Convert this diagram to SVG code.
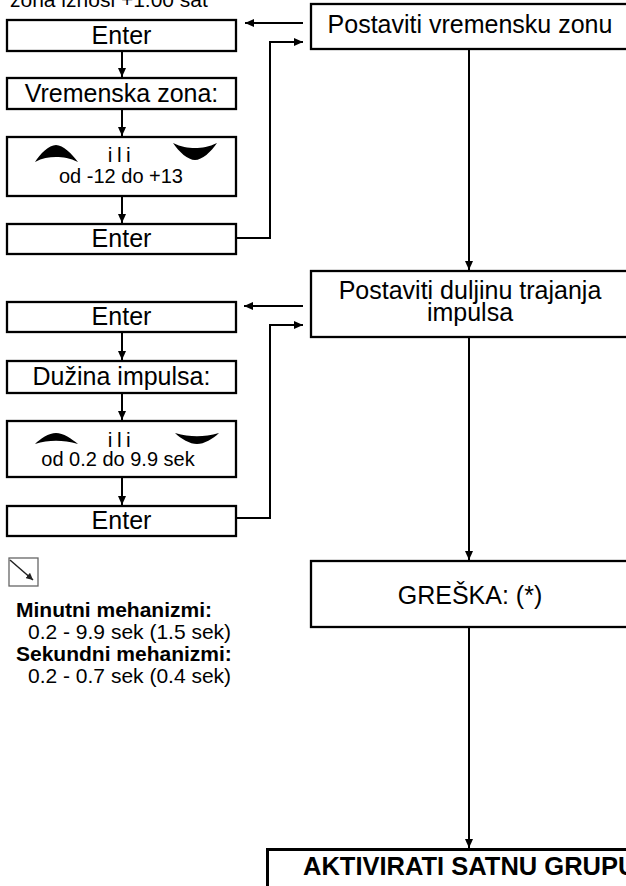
<svg xmlns="http://www.w3.org/2000/svg" width="626" height="886" viewBox="0 0 626 886">
<style>
text{font-family:"Liberation Sans",Arial,sans-serif;fill:#000}
.box{fill:#fff;stroke:#000;stroke-width:2.3}
.big{font-size:25px;text-anchor:middle}
.sm{font-size:20px;text-anchor:middle}
.ili{font-size:21px;text-anchor:middle;letter-spacing:4.5px}
.note{font-size:21px}
.b{font-weight:bold}
.con{fill:none;stroke:#000;stroke-width:2}
.chev{fill:#000}
</style>
<defs>
<marker id="ah" markerUnits="userSpaceOnUse" markerWidth="9" markerHeight="8" refX="9" refY="4" orient="auto">
<path d="M0,0 L9,4 L0,8 Z" fill="#000"/>
</marker>
<marker id="ahs" markerUnits="userSpaceOnUse" markerWidth="7" markerHeight="7" refX="7" refY="3.5" orient="auto">
<path d="M0,0 L7,3.5 L0,7 Z" fill="#222"/>
</marker>
<path id="up" d="M0,17 C5,9 14,0 21,0 C28,0 37,9 43,17 C35,13 28,12 21,12 C14,12 7,13 0,17 Z"/>
<path id="down" d="M0,0 C8,4 15,5 22,5 C29,5 36,4 44,0 C38,9 29,17 22,17 C15,17 6,9 0,0 Z"/>
</defs>

<text class="note" x="10" y="7">zona iznosi +1:00 sat</text>

<g id="connectors">
<line class="con" x1="122" y1="52" x2="122" y2="77" marker-end="url(#ah)"/>
<line class="con" x1="122" y1="110" x2="122" y2="136" marker-end="url(#ah)"/>
<line class="con" x1="122" y1="197" x2="122" y2="223" marker-end="url(#ah)"/>
<line class="con" x1="122" y1="333" x2="122" y2="360" marker-end="url(#ah)"/>
<line class="con" x1="122" y1="394" x2="122" y2="420" marker-end="url(#ah)"/>
<line class="con" x1="122" y1="478" x2="122" y2="505" marker-end="url(#ah)"/>
<line class="con" x1="303" y1="23" x2="245" y2="23" marker-end="url(#ah)"/>
<path class="con" d="M237,238 H270 V42 H303" marker-end="url(#ah)"/>
<line class="con" x1="303" y1="306" x2="244" y2="306" marker-end="url(#ah)"/>
<path class="con" d="M237,518 H270 V325 H303" marker-end="url(#ah)"/>
<line class="con" x1="469" y1="50" x2="469" y2="270" marker-end="url(#ah)"/>
<line class="con" x1="469" y1="338" x2="469" y2="560" marker-end="url(#ah)"/>
<line class="con" x1="469" y1="628" x2="469" y2="848" marker-end="url(#ah)"/>
</g>

<g id="enter1"><rect class="box" x="7" y="20" width="229" height="31"/><text class="big" x="121.5" y="44">Enter</text></g>
<g id="vremenska"><rect class="box" x="7" y="78" width="229" height="31"/><text class="big" x="121.5" y="102">Vremenska zona:</text></g>
<g id="select1"><rect class="box" x="7" y="137" width="229" height="59"/>
<use href="#up" class="chev" transform="translate(35,145)"/>
<use href="#down" class="chev" transform="translate(173,143)"/>
<text class="ili" x="121.5" y="162">ili</text>
<text class="sm" x="121" y="183">od -12 do +13</text></g>
<g id="enter2"><rect class="box" x="7" y="224" width="229" height="30"/><text class="big" x="121.5" y="247">Enter</text></g>

<g id="enter3"><rect class="box" x="7" y="302" width="229" height="30"/><text class="big" x="121.5" y="325">Enter</text></g>
<g id="duzina"><rect class="box" x="7" y="361" width="229" height="32"/><text class="big" x="121.5" y="385">Dužina impulsa:</text></g>
<g id="select2"><rect class="box" x="7" y="421" width="229" height="56"/>
<use href="#up" class="chev" transform="translate(35,433) scale(1,0.65)"/>
<use href="#down" class="chev" transform="translate(175,433) scale(1,0.65)"/>
<text class="ili" x="121.5" y="447">ili</text>
<text class="sm" x="118" y="466">od 0.2 do 9.9 sek</text></g>
<g id="enter4"><rect class="box" x="7" y="506" width="229" height="30"/><text class="big" x="121.5" y="529">Enter</text></g>

<g id="r1"><rect class="box" x="311" y="4" width="340" height="45"/><text class="big" x="470" y="33">Postaviti vremensku zonu</text></g>
<g id="r2"><rect class="box" x="311" y="271" width="340" height="66"/><text class="big" x="470" y="299">Postaviti duljinu trajanja</text><text class="big" x="470" y="321">impulsa</text></g>
<g id="greska"><rect class="box" x="311" y="561" width="340" height="66"/><text class="big" x="470" y="604">GREŠKA: (*)</text></g>
<g id="aktivirati"><rect x="267.5" y="849.5" width="400" height="100" fill="#fff" stroke="#000" stroke-width="3"/><text class="b" x="303" y="875" style="font-size:25.5px">AKTIVIRATI SATNU GRUPU</text></g>

<g id="icon"><rect x="9" y="558" width="29" height="28" fill="none" stroke="#666" stroke-width="1.3"/>
<line x1="10" y1="560" x2="33" y2="580" stroke="#222" stroke-width="1.5" marker-end="url(#ahs)"/></g>

<g id="notes">
<text class="note b" x="16" y="617">Minutni mehanizmi:</text>
<text class="note" x="28" y="639">0.2 - 9.9 sek (1.5 sek)</text>
<text class="note b" x="16" y="661">Sekundni mehanizmi:</text>
<text class="note" x="28" y="683">0.2 - 0.7 sek (0.4 sek)</text>
</g>
</svg>
